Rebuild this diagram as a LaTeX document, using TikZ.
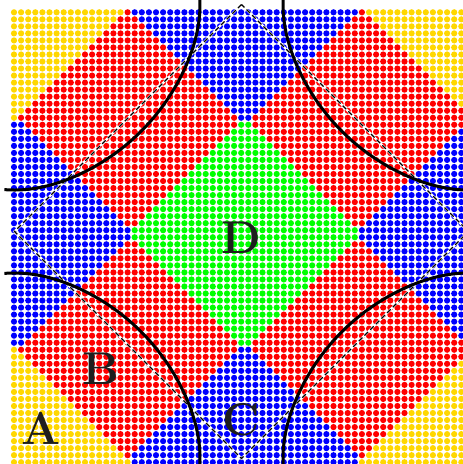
\documentclass[tikz,border=0pt]{standalone}
\usepackage{tikz}
\definecolor{dotY}{RGB}{255,215,0}
\definecolor{dotR}{RGB}{255,0,0}
\definecolor{dotB}{RGB}{0,0,255}
\definecolor{dotG}{RGB}{0,255,0}
\definecolor{lbl}{RGB}{30,30,30}
\tikzset{
  fsline/.style={line width=3pt, black},
  dashunder/.style={line width=2.2pt, white},
  dashline/.style={line width=1.3pt, black, dash pattern=on 5pt off 3pt},
  lblnode/.style={text=lbl, font=\fontsize{46}{50}\selectfont\bfseries, inner sep=0pt},
}
\newcommand\fsarc{%
  \draw[fsline] plot[domain=-8:100.45, samples=60, variable=\t]
     ({1.26111*acos((\fz-2*cos(\t))/(2+1.2*cos(\t)))}, {1.26111*\t})
   -- plot[domain=100.45:-8, samples=60, variable=\t]
     ({1.26111*\t}, {1.26111*acos((\fz-2*cos(\t))/(2+1.2*cos(\t)))});
}
\begin{document}
\begin{tikzpicture}[x=1pt,y=-1pt]
\useasboundingbox (0,0) rectangle (463,464);
\fill[white] (0,0) rectangle (463,464);
\begin{scope}
\clip (0,0) rectangle (463,464);
\foreach \i in {0,...,63}{
  \foreach \j in {0,...,64}{
    \pgfmathtruncatemacro\uu{abs(2*\i-65)}
    \pgfmathtruncatemacro\vv{abs(2*\j-63)}
    \pgfmathtruncatemacro\aa{\uu+\vv}
    \pgfmathtruncatemacro\bb{abs(\uu-\vv)}
    \ifnum\aa<33 \def\dc{dotG}\else
      \ifnum\aa>97 \def\dc{dotY}\else
        \ifnum\bb>31 \def\dc{dotB}\else \def\dc{dotR}\fi
      \fi
    \fi
    \fill[\dc] ({14+7.1*\i},{12.3+7.03*\j}) circle[radius=3.1pt];
  }
}
\coordinate (dT) at (241.5,4.5);
\coordinate (dL) at (14.5,231.5);
\coordinate (dBt) at (241.5,458.5);
\coordinate (dR) at (468.5,231.5);
\draw[dashunder] (dT) -- (dL) -- (dBt) -- (dR) -- cycle;
\draw[dashline] (dT) -- (dL) -- (dBt) -- (dR) -- cycle;
\pgfmathsetmacro\fz{3.2*cos(147.1)+2}
\begin{scope}[shift={(14.5,4.5)}] \fsarc \end{scope}
\begin{scope}[shift={(468.5,4.5)}, xscale=-1] \fsarc \end{scope}
\begin{scope}[shift={(14.5,458.5)}, yscale=-1] \fsarc \end{scope}
\begin{scope}[shift={(468.5,458.5)}, xscale=-1, yscale=-1] \fsarc \end{scope}
\end{scope}
\node[lblnode] (lA) at (41.5,428.5) {A};
\node[lblnode] (lB) at (101,369) {B};
\node[lblnode] (lC) at (241.5,420) {C};
\node[lblnode] (lD) at (241.5,237.5) {D};
\end{tikzpicture}
\end{document}
